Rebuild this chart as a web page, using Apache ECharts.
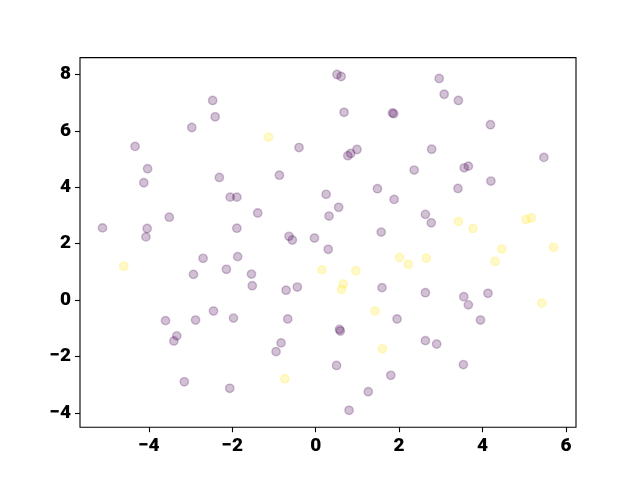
<!DOCTYPE html>
<html>
<head>
<meta charset="utf-8">
<script src="https://cdn.jsdelivr.net/npm/echarts@6/dist/echarts.min.js"></script>
<style>html,body{margin:0;padding:0;background:#fff}#c{width:640px;height:480px}</style>
</head>
<body>
<div id="c"></div>
<script>
// class 0 (purple) points
const class0X = [-2.47,-2.41,-2.97,-4.33,-0.40,-4.03,-4.12,-2.31,-0.87,-2.05,-1.89,-1.39,-3.51,-5.11,-4.04,-1.89,-4.07,-0.64,-0.56,-0.03,
  0.51,0.61,2.96,3.08,3.42,0.68,1.84,1.87,4.19,0.99,0.84,0.77,2.78,5.47,2.36,3.56,3.66,4.20,3.41,1.48,1.88,0.25,0.55,0.32,2.63,2.77,1.57,
  -2.70,-1.87,-2.93,-2.14,-1.54,-1.52,-0.71,-0.44,-3.60,-2.88,-2.45,-1.97,-0.67,-3.33,-3.40,-0.83,-0.95,-3.15,-2.06,
  0.30,1.59,2.63,3.55,3.66,4.13,1.95,3.95,0.57,0.59,2.63,2.90,0.50,3.54,1.80,1.26,0.80];
const class0Y = [7.08,6.50,6.12,5.45,5.41,4.66,4.16,4.35,4.43,3.65,3.65,3.09,2.94,2.56,2.54,2.55,2.24,2.26,2.13,2.20,
  8.00,7.93,7.86,7.30,7.08,6.66,6.64,6.61,6.22,5.34,5.20,5.12,5.35,5.06,4.61,4.69,4.75,4.22,3.96,3.95,3.57,3.75,3.29,2.98,3.04,2.74,2.41,
  1.48,1.54,0.91,1.09,0.92,0.51,0.35,0.46,-0.73,-0.71,-0.39,-0.64,-0.67,-1.27,-1.45,-1.52,-1.83,-2.90,-3.13,
  1.80,0.44,0.26,0.12,-0.17,0.24,-0.67,-0.71,-1.04,-1.10,-1.44,-1.56,-2.32,-2.29,-2.67,-3.25,-3.91];
// class 1 (yellow) points
const class1X = [-1.13,3.42,3.77,5.04,5.17,-4.60,-0.74,0.15,0.96,2.01,2.22,2.65,4.30,4.46,5.70,0.66,0.62,5.42,1.42,1.60];
const class1Y = [5.78,2.79,2.54,2.86,2.91,1.20,-2.79,1.07,1.04,1.51,1.27,1.49,1.37,1.81,1.87,0.57,0.37,-0.11,-0.39,-1.73];
const xTicks = [-4,-2,0,2,4,6];
const xTickLabels = ['\u22124','\u22122','0','2','4','6'];
const yTicks = [-4,-2,0,2,4,6,8];
const yTickLabels = ['\u22124','\u22122','0','2','4','6','8'];

const pairs = (xs, ys) => xs.map((x, i) => [x, ys[i]]);
const fmt = (ticks, labels) => v => { const i = ticks.findIndex(t => Math.abs(t - v) < 1e-9); return i >= 0 ? labels[i] : ''; };
const labelStyle = { color: '#000', fontFamily: 'Roboto', fontWeight: 900, fontSize: 19 };

const chart = echarts.init(document.getElementById('c'), null, { renderer: 'canvas' });
chart.setOption({
  animation: false,
  backgroundColor: '#fff',
  grid: { left: 80, right: 64, top: 57.6, bottom: 52.8, show: true, borderColor: '#000', borderWidth: 1.1, backgroundColor: 'transparent' },
  xAxis: {
    type: 'value', min: -5.65, max: 6.24,
    splitLine: { show: false },
    axisLine: { show: false, onZero: false },
    axisTick: { show: true, length: 5, lineStyle: { color: '#000', width: 1.1 }, customValues: xTicks },
    axisLabel: { ...labelStyle, margin: 10, customValues: xTicks, formatter: fmt(xTicks, xTickLabels) }
  },
  yAxis: {
    type: 'value', min: -4.51, max: 8.60,
    splitLine: { show: false },
    axisLine: { show: false, onZero: false },
    axisTick: { show: true, length: 5, lineStyle: { color: '#000', width: 1.1 }, customValues: yTicks },
    axisLabel: { ...labelStyle, margin: 9, customValues: yTicks, formatter: fmt(yTicks, yTickLabels) }
  },
  series: [
    { type: 'scatter', data: pairs(class0X, class0Y), symbol: 'circle', symbolSize: 8.4,
      itemStyle: { color: 'rgba(68,1,84,0.3)', borderColor: 'rgba(68,1,84,0.3)', borderWidth: 1.4 } },
    { type: 'scatter', data: pairs(class1X, class1Y), symbol: 'circle', symbolSize: 8.4,
      itemStyle: { color: 'rgba(253,231,37,0.3)', borderColor: 'rgba(253,231,37,0.3)', borderWidth: 1.4 } }
  ]
});
</script>
</body>
</html>
